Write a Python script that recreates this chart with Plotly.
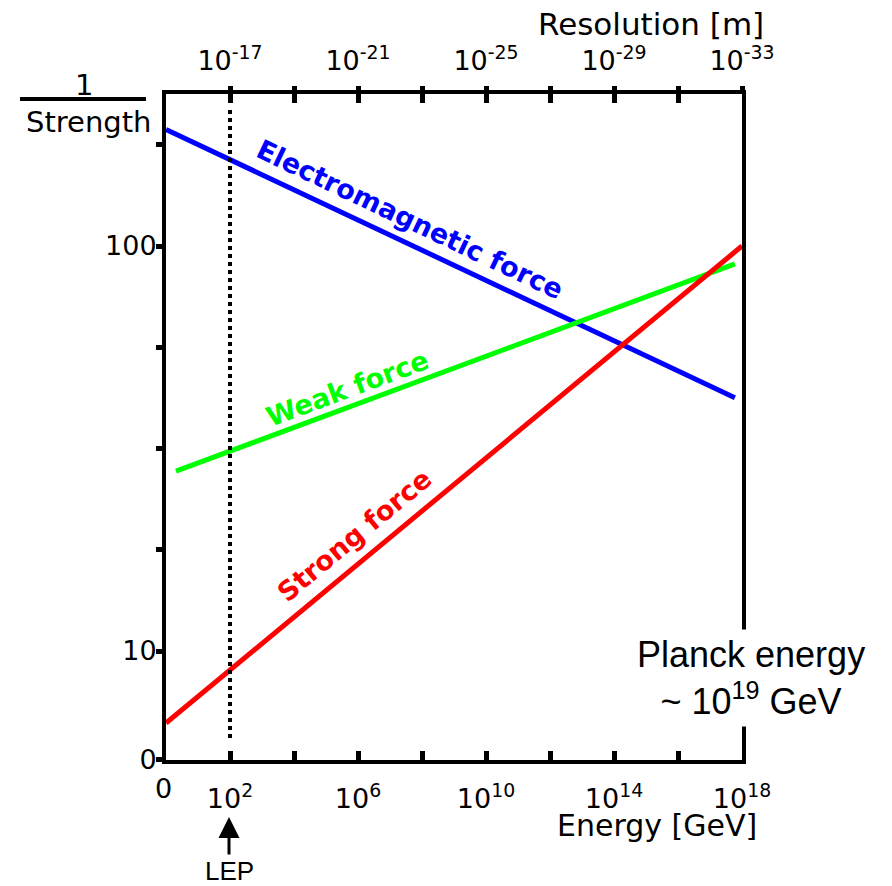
import plotly.graph_objects as go

# ---- data (energies in GeV, values are 1/strength) ----
em_energy = [1.0, 6e17]
em_inv_strength = [194.0, 42.2]

weak_energy = [2.05, 6e17]
weak_inv_strength = [27.8, 90.3]

strong_energy = [1.0, 1e18]
strong_inv_strength = [6.64, 100.0]

lep_energy = 1e2

x_tick_vals = [1, 1e2, 1e4, 1e6, 1e8, 1e10, 1e12, 1e14, 1e16, 1e18]
x_tick_text = ["", "10<sup>2</sup>", "", "10<sup>6</sup>", "", "10<sup>10</sup>", "",
               "10<sup>14</sup>", "", "10<sup>18</sup>"]
top_tick_vals = [1e2, 1e4, 1e6, 1e8, 1e10, 1e12, 1e14, 1e16, 1e18]
top_tick_text = ["10<sup>-17</sup>", "", "10<sup>-21</sup>", "", "10<sup>-25</sup>", "",
                 "10<sup>-29</sup>", "", "10<sup>-33</sup>"]
y_tick_vals = [5.39, 10, 17.78, 31.62, 56.23, 100, 177.8]
y_tick_text = ["0", "10", "", "", "", "100", ""]

# ---- layout geometry (page body has an 8px margin) ----
OFF = 8
W, H = 892 - OFF, 886 - OFF
PX0, PY0, PW, PH = 166, 94, 576, 666      # plot box in page pixels
L, T = PX0 - OFF, PY0 - OFF
R, B = W - L - PW, H - T - PH


def px_x(p):
    return (p - PX0) / PW


def px_y(p):
    return (PY0 + PH - p) / PH


TICKFONT = dict(family="DejaVu Sans", size=27, color="black")

fig = go.Figure()
fig.add_trace(go.Scatter(x=em_energy, y=em_inv_strength, mode="lines",
                         line=dict(color="#0000FF", width=5), showlegend=False))
fig.add_trace(go.Scatter(x=weak_energy, y=weak_inv_strength, mode="lines",
                         line=dict(color="#00FF00", width=5), showlegend=False))
fig.add_trace(go.Scatter(x=strong_energy, y=strong_inv_strength, mode="lines",
                         line=dict(color="#FF0000", width=5), showlegend=False))
# invisible trace to activate the top axis
fig.add_trace(go.Scatter(x=[1, 1e18], y=[10, 10], xaxis="x2", mode="lines",
                         line=dict(width=0), opacity=0, showlegend=False, hoverinfo="skip"))

fig.update_layout(
    width=W, height=H,
    margin=dict(l=L, r=R, t=T, b=B),
    paper_bgcolor="white", plot_bgcolor="white",
    xaxis=dict(type="log", range=[0, 18], showgrid=False, zeroline=False,
               showline=True, linecolor="black", linewidth=4, mirror="ticks",
               ticks="inside", ticklen=9, tickwidth=5, tickcolor="black",
               tickvals=x_tick_vals, ticktext=x_tick_text, tickfont=TICKFONT,
               ticklabelstandoff=12),
    xaxis2=dict(type="log", range=[0, 18], overlaying="x", side="top",
                showgrid=False, zeroline=False, showline=False,
                ticks="outside", ticklen=7, tickwidth=5, tickcolor="black",
                tickvals=top_tick_vals, ticktext=top_tick_text, tickfont=TICKFONT,
                ticklabelstandoff=5),
    yaxis=dict(type="log", range=[0.7309, 2.3753], showgrid=False, zeroline=False,
               showline=True, linecolor="black", linewidth=4, mirror=True,
               ticks="outside", ticklen=6, tickwidth=5, tickcolor="black",
               tickvals=y_tick_vals, ticktext=y_tick_text, tickfont=TICKFONT,
               ticklabelstandoff=-6),
)

# LEP dotted line
fig.add_shape(type="line", xref="x", yref="paper", x0=lep_energy, x1=lep_energy,
              y0=px_y(738), y1=px_y(108), line=dict(color="black", width=4, dash="4px,4px"))

# 1/Strength fraction bar
fig.add_shape(type="line", xref="paper", yref="paper", x0=px_x(20), x1=px_x(146),
              y0=px_y(99), y1=px_y(99), line=dict(color="black", width=4))

ann = []
ann.append(dict(text="0", x=px_x(163), y=px_y(788), xref="paper", yref="paper",
                showarrow=False, font=TICKFONT, xanchor="center", yanchor="middle"))
ann.append(dict(text="1", x=px_x(84), y=px_y(85), xref="paper", yref="paper",
                showarrow=False, font=dict(family="DejaVu Sans", size=29, color="black"),
                xanchor="center", yanchor="middle"))
ann.append(dict(text="Strength", x=px_x(88), y=px_y(122), xref="paper", yref="paper",
                showarrow=False, font=dict(family="DejaVu Sans", size=29, color="black"),
                xanchor="center", yanchor="middle"))
ann.append(dict(text="Resolution [m]", x=px_x(651), y=px_y(24), xref="paper", yref="paper",
                showarrow=False, font=dict(family="DejaVu Sans", size=31, color="black"),
                xanchor="center", yanchor="middle"))
ann.append(dict(text="Energy [GeV]", x=px_x(657), y=px_y(825), xref="paper", yref="paper",
                showarrow=False, font=dict(family="DejaVu Sans", size=30, color="black"),
                xanchor="center", yanchor="middle"))
# line labels
ann.append(dict(text="<b>Electromagnetic force</b>", x=px_x(410), y=px_y(220),
                xref="paper", yref="paper", showarrow=False, textangle=25.4,
                font=dict(family="DejaVu Sans", size=27, color="#0000FF"),
                xanchor="center", yanchor="middle"))
ann.append(dict(text="<b>Weak force</b>", x=px_x(347), y=px_y(388),
                xref="paper", yref="paper", showarrow=False, textangle=-20.4,
                font=dict(family="DejaVu Sans", size=27, color="#00FF00"),
                xanchor="center", yanchor="middle"))
ann.append(dict(text="<b>Strong force</b>", x=px_x(354), y=px_y(535),
                xref="paper", yref="paper", showarrow=False, textangle=-39.6,
                font=dict(family="DejaVu Sans", size=27, color="#FF0000"),
                xanchor="center", yanchor="middle"))
# Planck annotation
ann.append(dict(text="Planck energy<br>~ 10<sup>19</sup> GeV", x=px_x(751), y=px_y(678),
                xref="paper", yref="paper", showarrow=False, bgcolor="white",
                borderpad=4, align="center",
                font=dict(family="Liberation Sans", size=36, color="black"),
                xanchor="center", yanchor="middle"))
# LEP text with arrow pointing up to the energy axis
ann.append(dict(text="LEP", x=px_x(229), y=px_y(817), xref="paper", yref="paper",
                showarrow=True, axref="pixel", ayref="pixel", ax=0, ay=54,
                arrowhead=2, arrowsize=1.4, arrowwidth=3, arrowcolor="black",
                startstandoff=0, standoff=0,
                font=dict(family="Liberation Sans", size=26, color="black")))
fig.update_layout(annotations=ann)

fig.write_html("out.html")
